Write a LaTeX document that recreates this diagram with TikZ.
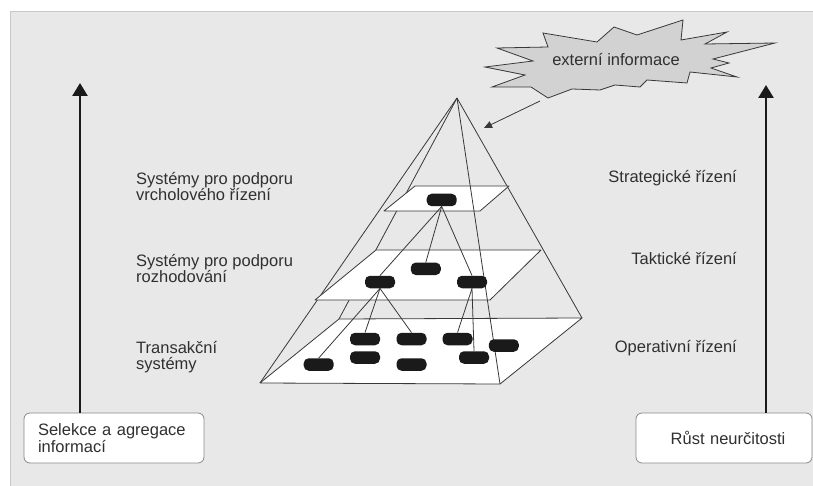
\documentclass[tikz,border=0pt]{standalone}
\usepackage{fontspec}
\setmainfont{Liberation Sans}
\usetikzlibrary{arrows.meta}
\definecolor{panel}{HTML}{E8E8E8}
\definecolor{panelrule}{HTML}{C8C8C8}
\definecolor{ink}{HTML}{303030}
\definecolor{wire}{HTML}{383838}
\definecolor{burst}{HTML}{D2D2D2}
\definecolor{unit}{HTML}{1A1A1A}
\definecolor{boxrule}{HTML}{8A8A8A}
\pgfdeclarelayer{back}
\pgfdeclarelayer{front}
\pgfsetlayers{back,main,front}

\begin{document}
\begin{tikzpicture}[x=1pt,y=-1pt,
  every node/.style={font=\fontsize{16.5}{16.5}\selectfont, text=ink},
  caption/.style={inner sep=0pt},
  unitbox/.style={fill=unit, rounded corners=5pt, minimum width=30pt, minimum height=12.5pt, inner sep=0pt},
  wireline/.style={draw=wire, line width=0.8pt},
  plane/.style={draw=wire, fill=white, line width=0.8pt, line join=round},
  link/.style={draw=wire, line width=0.8pt},
  bigarrow/.style={draw=unit, line width=2.6pt, -{Triangle[length=13pt,width=15pt]}},
  infobox/.style={draw=boxrule, fill=white, rounded corners=6pt, line width=0.8pt, minimum height=50pt, inner ysep=0pt},
]
\useasboundingbox (0,0) rectangle (813,486);

\begin{pgfonlayer}{back}
% background panel
\fill[panel] (10,11) rectangle (830,500);
\draw[panelrule, line width=0.8pt] (10,500) -- (10,11) -- (830,11);

% pyramid corners
\coordinate (apex) at (457,98);
\coordinate (bFL) at (260,383);
\coordinate (bFR) at (500,384);
\coordinate (bBR) at (582,318);
\coordinate (bBL) at (339,319);
\coordinate (mFL) at (315,300);
\coordinate (mFR) at (490,300);
\coordinate (mBR) at (541,250);
\coordinate (mBL) at (376,250);
\coordinate (tFL) at (384,211);
\coordinate (tFR) at (480,211);
\coordinate (tBR) at (509,186);
\coordinate (tBL) at (415,186);

% edges running behind the levels
\draw[wireline] (apex) -- (bBL);
\draw[wireline] (apex) -- (bBR);
\draw[wireline] (apex) -- (bFL);

% levels of the pyramid
\draw[plane] (bFL) -- (bFR) -- (bBR) -- (bBL) -- cycle;
\draw[plane] (mFL) -- (mFR) -- (mBR) -- (mBL) -- cycle;
\draw[plane] (tFL) -- (tFR) -- (tBR) -- (tBL) -- cycle;

% front edge
\draw[wireline] (apex) -- (bFR);
\end{pgfonlayer}

% information units
\begin{pgfonlayer}{front}
\node[unitbox] (t1) at (441.7,200) {};
\node[unitbox] (m1) at (380,282) {};
\node[unitbox] (m2) at (425.8,268.8) {};
\node[unitbox] (m3) at (472,282) {};
\node[unitbox] (b1) at (365,339) {};
\node[unitbox] (b2) at (411.5,339) {};
\node[unitbox] (b3) at (457.5,339) {};
\node[unitbox] (b4) at (503.8,345.5) {};
\node[unitbox] (b5) at (365,357.5) {};
\node[unitbox] (b6) at (318.7,364.5) {};
\node[unitbox] (b7) at (411.5,364.5) {};
\node[unitbox] (b8) at (474,357.5) {};
\end{pgfonlayer}

% hierarchy links
\draw[link] (t1.south) -- (m1.north);
\draw[link] (t1.south) -- (m2.north);
\draw[link] (t1.south) -- (m3.north);
\draw[link] (m1.south) -- (b6.north);
\draw[link] (m1.south) -- (b1.north);
\draw[link] (m1.south) -- (b2.north);
\draw[link] (m3.south) -- (b3.north);
\draw[link] (m3.south) -- (b8.north);

% external information burst
\draw[fill=burst, draw=wire, line width=0.8pt, line join=miter]
  (485,67) -- (525,75) -- (492,87) -- (531,87) -- (548,98) -- (572,89) -- (600,90)
  -- (615,85) -- (640,87) -- (647,80) -- (687,83) -- (690,72) -- (737,77)
  -- (711,68) -- (729,63) -- (713,59) -- (775,43) -- (705,44) -- (727,32)
  -- (681,40) -- (683,20) -- (637,35) -- (614,27) -- (597,42) -- (543,33)
  -- (548,47) -- (497,48) -- (533,61) -- cycle;
\node[caption, anchor=base] (ext) at (616,66) {externí informace};
\coordinate (burstfoot) at (540,101);
\coordinate (pyrmark) at (484,128);
\draw[link, -{Triangle[length=8pt,width=7pt]}] (burstfoot) -- (pyrmark);

% level descriptions
\node[caption, anchor=north west, align=left] (lvlTop) at (136,172) {Systémy pro podporu\\vrcholového řízení};
\node[caption, anchor=north west, align=left] (lvlMid) at (136,254) {Systémy pro podporu\\rozhodování};
\node[caption, anchor=north west, align=left] (lvlBase) at (136,341) {Transakční\\systémy};

\node[caption, anchor=base east] (mgStrat) at (737,183) {Strategické řízení};
\node[caption, anchor=base east] (mgTakt) at (737,265) {Taktické řízení};
\node[caption, anchor=base east] (mgOper) at (737,352) {Operativní řízení};

% bottom boxes and vertical arrows
\node[infobox, text width=152pt, inner xsep=14pt, align=left] (selbox) at (114,438) {Selekce a agregace\\informací};
\node[infobox, text width=164pt, inner xsep=6pt, align=center] (neurbox) at (724,438) {\hspace*{8pt}Růst neurčitosti};

\coordinate (ltop) at (80,83);
\coordinate (rtop) at (766,85);
\draw[bigarrow] (selbox.north -| ltop) -- (ltop);
\draw[bigarrow] (neurbox.north -| rtop) -- (rtop);
\end{tikzpicture}
\end{document}
